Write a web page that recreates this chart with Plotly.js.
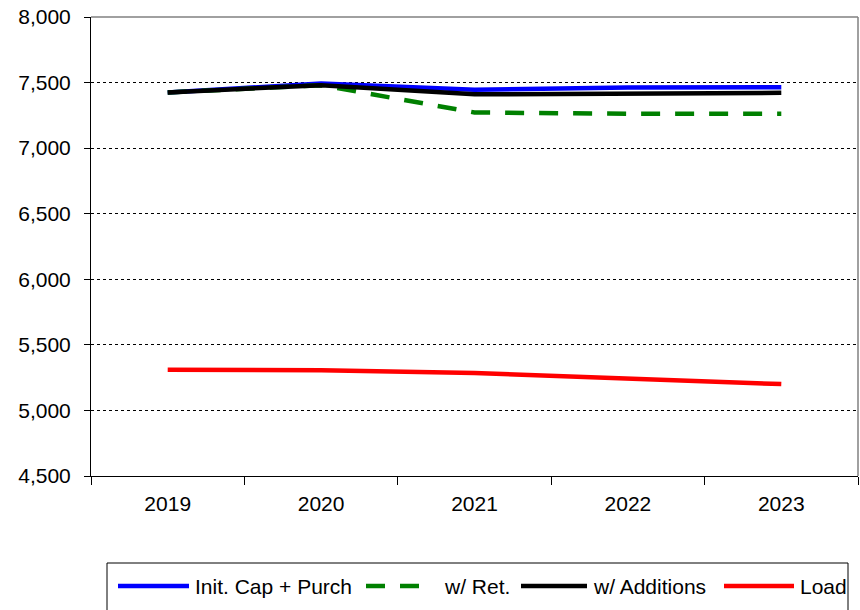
<!DOCTYPE html>
<html><head><meta charset="utf-8">
<script src="https://cdn.plot.ly/plotly-3.0.1.min.js"></script>
<style>body{margin:0;background:#fff}#c{width:860px;height:610px}</style>
</head><body><div id="c"></div>
<script>
const years = ['2019','2020','2021','2022','2023'];
const initCap = [7425, 7492, 7446, 7462, 7465];
const withRet = [7425, 7480, 7272, 7262, 7262];
const withAdd = [7425, 7480, 7410, 7420, 7422];
const load = [5310, 5306, 5285, 5246, 5201];
const seriesNames = ['Init. Cap + Purch', 'w/ Ret.', 'w/ Additions', 'Load'];
const seriesColors = ['#0000ff', '#008000', '#000000', '#ff0000'];
const seriesDash = ['solid', '19px,15px', 'solid', 'solid'];

const W = 860, H = 610, M = {l: 91, r: 2, t: 17, b: 134};
const pw = W - M.l - M.r, ph = H - M.t - M.b;
const px = x => (x - M.l) / pw;
const py = y => (H - M.b - y) / ph;

const values = [initCap, withRet, withAdd, load];
const traces = values.map((v, i) => ({
  x: years, y: v, name: seriesNames[i], mode: 'lines', showlegend: false,
  line: {color: seriesColors[i], width: 4.5, dash: seriesDash[i]}
}));

// custom legend layout (sample line start/end, text start) in pixels
const legItems = [[118, 189, 194], [366, 420, 443], [521, 587, 592], [724, 794, 799]];
const legY = 586;
const shapes = [
  {type: 'line', xref: 'paper', yref: 'paper', x0: 0, x1: 1, y0: 1, y1: 1, line: {color: '#808080', width: 1.5}},
  {type: 'line', xref: 'paper', yref: 'paper', x0: 1, x1: 1, y0: 0, y1: 1, line: {color: '#808080', width: 1.5}},
  {type: 'rect', xref: 'paper', yref: 'paper', x0: px(107), x1: px(848), y0: py(563), y1: py(640), line: {color: '#000', width: 1}}
];
const annotations = [];
legItems.forEach((it, i) => {
  shapes.push({type: 'line', xref: 'paper', yref: 'paper', x0: px(it[0]), x1: px(it[1]), y0: py(legY), y1: py(legY),
    line: {color: seriesColors[i], width: 4.5, dash: seriesDash[i]}});
  annotations.push({xref: 'paper', yref: 'paper', x: px(it[2]), y: py(legY), xanchor: 'left', yanchor: 'middle',
    text: seriesNames[i], showarrow: false, font: {size: 21, color: '#000'}, xshift: -1});
});

const layout = {
  width: W, height: H, margin: M,
  paper_bgcolor: '#fff', plot_bgcolor: '#fff',
  font: {family: 'Liberation Sans, Arial, sans-serif', size: 21, color: '#000'},
  showlegend: false,
  xaxis: {type: 'category', range: [-0.5, 4.5], tickson: 'boundaries', ticks: 'outside', ticklen: 8, tickcolor: '#000',
    showline: true, linecolor: '#000', linewidth: 1, showgrid: false, zeroline: false,
    ticklabelstandoff: 9, fixedrange: true},
  yaxis: {range: [4500, 8000], dtick: 500, tickformat: ',d', ticks: 'outside', ticklen: 6, tickcolor: '#000',
    showline: true, linecolor: '#000', linewidth: 1, showgrid: true, gridcolor: '#000', gridwidth: 1,
    griddash: 'dot', zeroline: false, ticklabelstandoff: 9},
  shapes: shapes,
  annotations: annotations
};
Plotly.newPlot('c', traces, layout, {displayModeBar: false, staticPlot: true});
</script></body></html>
